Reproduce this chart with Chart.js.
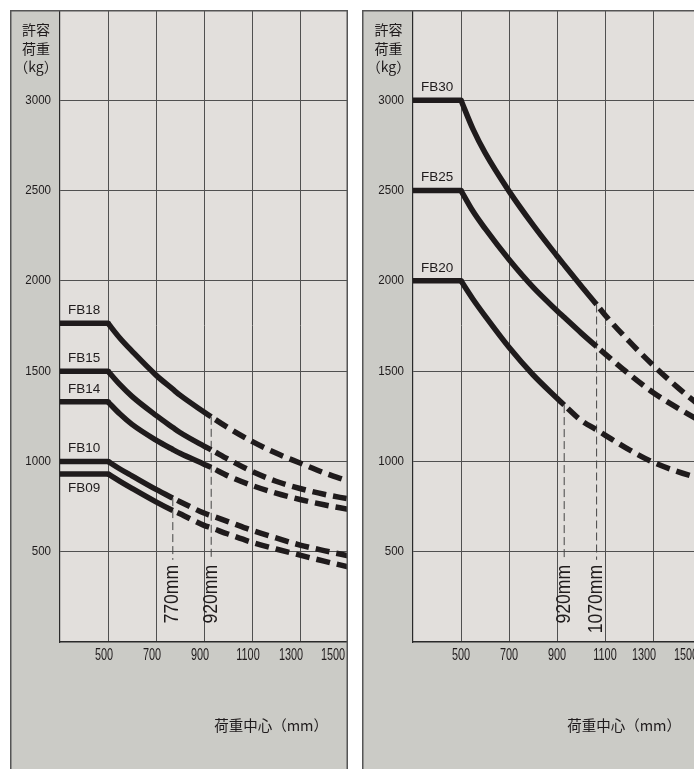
<!DOCTYPE html>
<html lang="ja">
<head>
<meta charset="utf-8">
<title>許容荷重</title>
<script src="https://cdn.jsdelivr.net/npm/chart.js@4.4.1/dist/chart.umd.min.js"></script>
<style>
  html, body { margin: 0; padding: 0; background: #fff; overflow: hidden; width: 694px; height: 769px; }
  canvas { position: absolute; top: 10px; }
  #left { left: 10px; }
  #right { left: 362px; }
</style>
</head>
<body>
<canvas id="left" width="338" height="759"></canvas>
<canvas id="right" width="339" height="759"></canvas>
<script>
// load centre (mm) at which the curves were read
const loadCenterL = [300, 500, 550, 600, 700, 770, 800, 900, 930, 1000, 1100, 1200, 1300, 1400, 1500];
const loadCenterR = [300, 500, 550, 600, 700, 800, 900, 930, 1000, 1065, 1100, 1200, 1300, 1400, 1500];

// allowable load (kg), left panel
const fb18 = [1765, 1765, 1682, 1611, 1478, 1400, 1367, 1274, 1247, 1187, 1111, 1046, 991, 937, 891];
const fb15 = [1500, 1500, 1425, 1360, 1255, 1188, 1160, 1085, 1064, 1013, 945, 890, 850, 818, 793];
const fb14 = [1330, 1330, 1262, 1205, 1118, 1066, 1045, 985, 967, 920, 867, 824, 789, 760, 735];
const fb10 = [1000, 1000, 958, 920, 845, 797, 777, 714, 700, 667, 618, 576, 537, 506, 478];
const fb09 = [931, 931, 890, 851, 776, 728, 710, 646, 632, 598, 552, 515, 481, 448, 416];

// allowable load (kg), right panel
const fb30 = [3000, 3000, 2840, 2710, 2497, 2310, 2138, 2088, 1973, 1869, 1811, 1666, 1533, 1413, 1303];
const fb25 = [2500, 2500, 2385, 2290, 2118, 1965, 1835, 1798, 1712, 1636, 1596, 1484, 1382, 1298, 1222];
const fb20 = [2000, 2000, 1898, 1806, 1632, 1480, 1350, 1312, 1228, 1175, 1146, 1065, 996, 945, 903];

// solid part ends here, dashed after
const solidToL = [930, 930, 930, 770, 770];
const solidToR = [1065, 1065, 930];

// vertical marker lines
const markL = [770, 930];
const markTextL = ['770mm', '920mm'];
const markR = [930, 1065];
const markTextR = ['920mm', '1070mm'];
const markBottom = 455;

const xTicks = [500, 700, 900, 1100, 1300, 1500];
const yTicks = [500, 1000, 1500, 2000, 2500, 3000];
const yTitle = ['許容', '荷重', '（kg）'];
const xTitle = '荷重中心（mm）';
const labelBelow = ['FB09'];

const LINE = '#1f1b1c';
const STRIP = '#cbcbc6';
const PLOT = '#e2dfdc';
const GRID = '#505050';
const NUM_FONT = '"Liberation Sans", Arial, sans-serif';
const JP_FONT = '"Noto Sans CJK JP", "Noto Sans", sans-serif';

function text(ctx, str, x, y, font, align, sx) {
  ctx.save();
  ctx.translate(x, y);
  ctx.scale(sx, 1);
  ctx.font = font;
  ctx.textAlign = align;
  ctx.textBaseline = 'middle';
  ctx.fillText(str, 0, 0);
  ctx.restore();
}

function buildDatasets(p) {
  const sets = [];
  p.values.forEach((vals, i) => {
    const pts = p.xs.map((x, k) => ({ x: x, y: vals[k] }));
    const brk = p.solidTo[i];
    // flat part up to 500mm
    sets.push({
      data: pts.slice(0, 2), borderColor: LINE, borderWidth: 5.5,
      borderCapStyle: 'round', pointRadius: 0, clip: 0
    });
    sets.push({
      data: pts.slice(1), borderColor: LINE, borderWidth: 5.5, pointRadius: 0, clip: 0,
      cubicInterpolationMode: 'monotone',
      segment: {
        borderDash: c => c.p0.parsed.x >= brk ? [14, 7] : [],
        borderDashOffset: c => c.p0.parsed.x >= brk ? 16 : 0
      }
    });
  });
  p.marks.forEach((m, i) => {
    const from = p.markFrom[i];
    sets.push({
      data: [{ x: m, y: from[p.xs.indexOf(m)] }, { x: m, y: markBottom }],
      borderColor: '#454545', borderWidth: 1, borderDash: [8, 4], pointRadius: 0, clip: 0
    });
  });
  return sets;
}

function decoPlugin(p) {
  return {
    id: 'deco',
    beforeDraw(chart) {
      const { ctx, chartArea: a, width, height } = chart;
      ctx.save();
      ctx.fillStyle = STRIP;
      ctx.fillRect(0, 0, width, height);
      ctx.fillStyle = PLOT;
      ctx.fillRect(a.left, a.top, a.right - a.left, a.bottom - a.top);
      ctx.restore();
    },
    afterDraw(chart) {
      const { ctx, chartArea: a, width, height } = chart;
      const xs = chart.scales.x, ys = chart.scales.y;
      ctx.save();
      ctx.strokeStyle = '#555';
      ctx.lineWidth = 1.5;
      ctx.beginPath();
      ctx.moveTo(0.75, height);
      ctx.lineTo(0.75, 0.75);
      ctx.lineTo(width - 0.75, 0.75);
      ctx.lineTo(width - 0.75, height);
      ctx.stroke();

      ctx.fillStyle = LINE;
      yTitle.forEach((t, i) => text(ctx, t, a.left / 2 + 1, 20 + i * 18.5, '14px ' + JP_FONT, 'center', 1));
      yTicks.forEach(v => text(ctx, String(v), a.left - 9, ys.getPixelForValue(v), '13px ' + NUM_FONT, 'right', 0.89));
      xTicks.forEach(v => {
        const nudge = v === 1500 ? -15 : v === 1300 ? -9 : p.xNudge;
        text(ctx, String(v), xs.getPixelForValue(v) + nudge, a.bottom + 14, '16px ' + NUM_FONT, 'center', 0.68);
      });
      text(ctx, xTitle, a.right - 20, a.bottom + 83, '14.5px ' + JP_FONT, 'right', 1);

      p.names.forEach((n, i) => {
        const y = ys.getPixelForValue(p.values[i][0]) + (labelBelow.includes(n) ? 14 : -13);
        text(ctx, n, a.left + 8, y, '13.5px ' + NUM_FONT, 'left', 1);
      });

      p.marks.forEach((m, i) => {
        ctx.save();
        ctx.translate(xs.getPixelForValue(m), ys.getPixelForValue(markBottom) + 5);
        ctx.rotate(-Math.PI / 2);
        ctx.scale(0.88, 1);
        ctx.font = '20px ' + NUM_FONT;
        ctx.textAlign = 'right';
        ctx.textBaseline = 'middle';
        ctx.fillText(p.markText[i], 0, 0);
        ctx.restore();
      });
      ctx.restore();
    }
  };
}

function makePanel(id, p) {
  const ctx = document.getElementById(id).getContext('2d');
  return new Chart(ctx, {
    type: 'line',
    data: { datasets: buildDatasets(p) },
    plugins: [decoPlugin(p)],
    options: {
      responsive: false,
      animation: false,
      layout: { padding: { left: 0, top: 0, right: 0, bottom: 127 } },
      plugins: { legend: { display: false }, tooltip: { enabled: false } },
      scales: {
        x: {
          type: 'linear', min: 300, max: 1500,
          afterBuildTicks: s => { s.ticks = xTicks.map(v => ({ value: v })); },
          afterFit: s => { s.height = 0; },
          ticks: { display: false },
          grid: { color: GRID, lineWidth: 1, drawTicks: false },
          border: { display: true, color: '#2a2a2a', width: 1.5 }
        },
        y: {
          type: 'linear', min: 0, max: 3500,
          afterBuildTicks: s => { s.ticks = yTicks.map(v => ({ value: v })); },
          afterFit: s => { s.width = p.strip; },
          ticks: { display: false },
          grid: { color: GRID, lineWidth: 1, drawTicks: false },
          border: { display: true, color: '#2a2a2a', width: 1.2 }
        }
      }
    }
  });
}

makePanel('left', {
  xs: loadCenterL, names: ['FB18', 'FB15', 'FB14', 'FB10', 'FB09'],
  values: [fb18, fb15, fb14, fb10, fb09], solidTo: solidToL,
  marks: markL, markText: markTextL, markFrom: [fb10, fb18],
  strip: 50, xNudge: -4
});

makePanel('right', {
  xs: loadCenterR, names: ['FB30', 'FB25', 'FB20'],
  values: [fb30, fb25, fb20], solidTo: solidToR,
  marks: markR, markText: markTextR, markFrom: [fb20, fb30],
  strip: 51, xNudge: 0
});
</script>
</body>
</html>
